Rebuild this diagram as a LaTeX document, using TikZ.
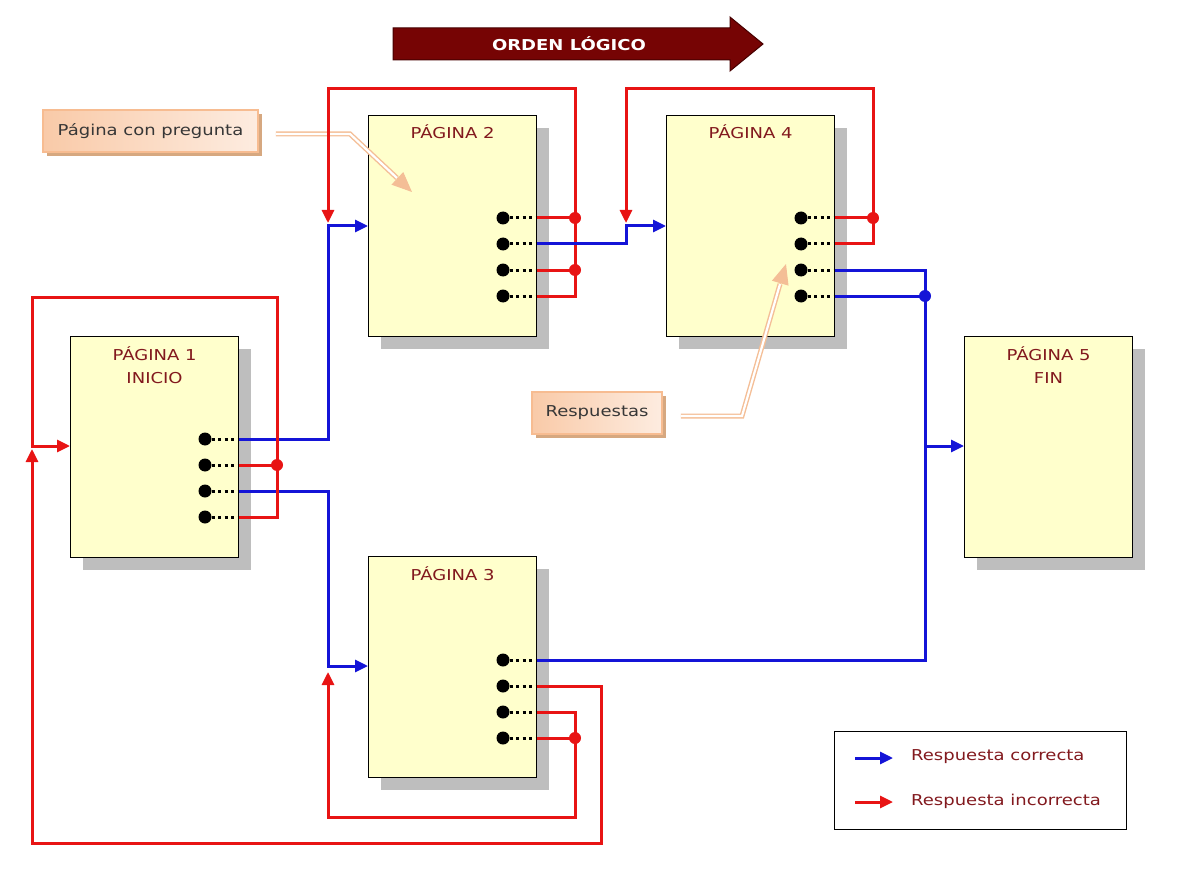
\documentclass[tikz,border=0pt]{standalone}
\usepackage{fontspec}
\setmainfont{DejaVu Sans}[FakeStretch=1.2]
\usetikzlibrary{arrows.meta,shadows,calc}
\definecolor{pagefill}{RGB}{255,255,204}
\definecolor{shadowgray}{RGB}{190,190,190}
\definecolor{titlered}{RGB}{130,25,30}
\definecolor{badred}{RGB}{232,20,20}
\definecolor{okblue}{RGB}{20,20,215}
\definecolor{ordenred}{RGB}{118,4,4}
\definecolor{ordenedge}{RGB}{70,0,0}
\definecolor{calA}{RGB}{249,202,168}
\definecolor{calB}{RGB}{253,236,224}
\definecolor{caledge}{RGB}{247,188,145}
\definecolor{calshadow}{RGB}{214,168,128}
\definecolor{calline}{RGB}{244,190,150}
\definecolor{caltext}{RGB}{55,55,55}
\begin{document}
\begin{tikzpicture}[x=1pt,y=-1pt,
  page/.style={draw=black, line width=1.1pt, fill=pagefill, minimum width=168pt, minimum height=221pt, anchor=north west, inner sep=0pt,
    drop shadow={shadow xshift=12pt, shadow yshift=-12pt, fill=shadowgray, opacity=1}},
  ptitle/.style={text=titlered, font=\fontsize{15}{23}\selectfont, align=center, inner sep=0pt, anchor=base},
  ans/.style={circle, fill=black, inner sep=0pt, minimum size=13pt},
  dotl/.style={line width=3pt, dash pattern=on 3pt off 3.5pt},
  ok/.style={draw=okblue, line width=3pt},
  bad/.style={draw=badred, line width=3pt},
  arr/.style={-{Triangle[length=13pt,width=12pt]}},
  jred/.style={circle, fill=badred, inner sep=0pt, minimum size=12pt},
  jblue/.style={circle, fill=okblue, inner sep=0pt, minimum size=12pt},
  calbox/.style={left color=calA, right color=calB, draw=caledge, line width=1.5pt, text=caltext, font=\fontsize{15}{18}\selectfont, inner sep=0pt,
    drop shadow={shadow xshift=4pt, shadow yshift=-4pt, fill=calshadow, opacity=1}},
  calarrow/.style={draw=calline, double=white, line width=1.4pt, double distance=2.2pt},
  caltip/.style={draw=calline, line width=1pt, -{Triangle[length=20pt,width=17pt,fill=calline]}},
  legtext/.style={text=titlered, font=\fontsize{15}{18}\selectfont, anchor=west, inner sep=0pt}
]
\useasboundingbox (0,0) rectangle (1186,869);

% top arrow
\fill[ordenred, draw=ordenedge, line width=1pt] (393,28) -- (730,28) -- (730,17) -- (763,44) -- (730,71) -- (730,60) -- (393,60) -- cycle;
\node[text=white, font=\bfseries\fontsize{15}{17}\selectfont] (orden) at (569,44) {ORDEN LÓGICO};

% pages
\node[page] (P1) at (70,336) {};
\node[page] (P2) at (368,115) {};
\node[page] (P3) at (368,556) {};
\node[page] (P4) at (666,115) {};
\node[page] (P5) at (964,336) {};

\node[ptitle] (t1) at ([yshift=-47pt]P1.north) {PÁGINA 1\\INICIO};
\node[ptitle] (t2) at ([yshift=-24pt]P2.north) {PÁGINA 2};
\node[ptitle] (t3) at ([yshift=-24pt]P3.north) {PÁGINA 3};
\node[ptitle] (t4) at ([yshift=-24pt]P4.north) {PÁGINA 4};
\node[ptitle] (t5) at ([yshift=-47pt]P5.north) {PÁGINA 5\\FIN};

% entry points
\coordinate (P1in) at ([yshift=-110pt]P1.north west);
\coordinate (P2in) at ([yshift=-111pt]P2.north west);
\coordinate (P3in) at ([yshift=-110pt]P3.north west);
\coordinate (P4in) at ([yshift=-111pt]P4.north west);
\coordinate (P5in) at ([yshift=-110pt]P5.north west);

% answer dots
\foreach \p/\x/\y in {P1/205/439, P2/503/218, P3/503/660, P4/801/218}{
  \node[ans] (\p a) at (\x,\y) {};
  \node[ans] (\p b) at (\x,\y+26) {};
  \node[ans] (\p c) at (\x,\y+52) {};
  \node[ans] (\p d) at (\x,\y+78) {};
}
\foreach \p in {P1,P2,P3,P4}{
  \foreach \s in {a,b,c,d}{
    \draw[dotl] (\p\s.east) -- (\p.east |- \p\s);
  }
}

% callouts
\node[calbox, minimum width=215pt, minimum height=42pt] (cq) at (150.5,131) {Página con pregunta};
\draw[calarrow] ([xshift=17pt,yshift=-3pt]cq.east) -- (350,134) -- (397,178);
\draw[caltip] (397,178) -- (412,192);

\node[calbox, minimum width=130pt, minimum height=42pt] (cr) at (597,413) {Respuestas};
\draw[calarrow] ([xshift=18pt,yshift=-3pt]cr.east) -- (742,416) -- (780,284);
\draw[caltip] (780,284) -- (786,264);

% junction coordinates
\coordinate (J1) at (277,465);
\coordinate (J1top) at (277,297);
\coordinate (J2a) at (575,218);
\coordinate (J2c) at (575,270);
\coordinate (J2top) at (575,89);
\coordinate (J4a) at (873,218);
\coordinate (J4top) at (873,89);
\coordinate (JB) at (925,296);
\coordinate (J3) at (575,738);
\coordinate (J3bot) at (575,817);
\coordinate (R3bot) at (601,843);

% page 1 answers
\draw[ok,arr] (P1.east |- P1a) -| ([xshift=-40pt]P2in) -- (P2in);
\draw[ok,arr] (P1.east |- P1c) -| ([xshift=-40pt]P3in) -- (P3in);
\draw[bad] (P1.east |- P1b) -- (J1);
\draw[bad,arr] (P1.east |- P1d) -| (J1top) -| ([xshift=-38pt]P1in) -- (P1in);

% page 2 answers
\draw[bad] (P2.east |- P2a) -- (J2a);
\draw[bad] (P2.east |- P2c) -- (J2c);
\draw[bad,arr] (P2.east |- P2d) -| (J2top) -| ([xshift=-40pt,yshift=3pt]P2in);
\draw[ok,arr] (P2.east |- P2b) -| ([xshift=-40pt]P4in) -- (P4in);

% page 4 answers
\draw[bad] (P4.east |- P4a) -- (J4a);
\draw[bad,arr] (P4.east |- P4b) -| (J4top) -| ([xshift=-40pt,yshift=3pt]P4in);
\draw[ok] (P4.east |- P4c) -| (JB);
\draw[ok] (P4.east |- P4d) -- (JB);
\draw[ok] (P3.east |- P3a) -| (JB);
\draw[ok,arr] ([xshift=-39pt]P5in) -- (P5in);

% page 3 answers
\draw[bad] (P3.east |- P3d) -- (J3);
\draw[bad,arr] (P3.east |- P3c) -| (J3bot) -| ([xshift=-40pt,yshift=-6pt]P3in);
\draw[bad,arr] (P3.east |- P3b) -| (R3bot) -| ([xshift=-38pt,yshift=-3pt]P1in);

% junction dots
\node[jred] (J1d) at (J1) {};
\node[jred] (J2ad) at (J2a) {};
\node[jred] (J2cd) at (J2c) {};
\node[jred] (J4ad) at (J4a) {};
\node[jred] (J3d) at (J3) {};
\node[jblue] (JBd) at (JB) {};

% legend
\node[draw=black, line width=1pt, minimum width=292pt, minimum height=98pt, anchor=north west, inner sep=0pt] (leg) at (834,731) {};
\node[legtext] (lt1) at (911,757) {Respuesta correcta};
\node[legtext] (lt2) at (911,801) {Respuesta incorrecta};
\draw[ok,arr] ([xshift=-56pt,yshift=-1pt]lt1.west) -- ([xshift=-18pt,yshift=-1pt]lt1.west);
\draw[bad,arr] ([xshift=-56pt,yshift=-1pt]lt2.west) -- ([xshift=-18pt,yshift=-1pt]lt2.west);
\end{tikzpicture}
\end{document}
